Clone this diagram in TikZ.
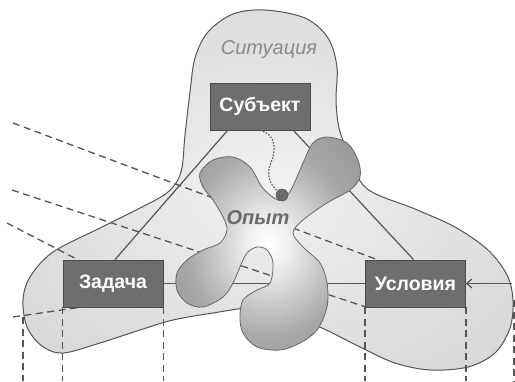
\documentclass[tikz,border=0pt]{standalone}
\usepackage{fontspec}
\setmainfont{Liberation Sans}
\usetikzlibrary{arrows.meta,calc}
\definecolor{lineC}{HTML}{555555}
\definecolor{boxC}{HTML}{6E6E6E}
\definecolor{boxB}{HTML}{4A4A4A}
\definecolor{sitTxt}{HTML}{8A8A8A}
\definecolor{expTxt}{HTML}{6A6A6A}
\definecolor{blobOut}{HTML}{868686}
\definecolor{blobMid}{HTML}{A8A8A8}
\definecolor{blobLine}{HTML}{666666}
\definecolor{sitOut}{HTML}{CCCCCC}
\definecolor{sitIn}{HTML}{F2F2F2}
\definecolor{dotC}{HTML}{6A6A6A}
\pgfdeclareradialshading{blobshade}{\pgfpoint{0bp}{0bp}}{color(0bp)=(white); color(5bp)=(white!95!black); color(22bp)=(blobMid); color(45bp)=(blobOut); color(70bp)=(blobOut)}
\pgfdeclareradialshading{sitshade}{\pgfpoint{0bp}{0bp}}{color(0bp)=(sitIn); color(20bp)=(white!88!black); color(50bp)=(sitOut); color(70bp)=(sitOut)}
\tikzset{
  sitline/.style={draw=lineC, line width=1pt},
  blobline/.style={draw=blobLine, line width=0.8pt},
  solidcon/.style={draw=lineC, line width=1.2pt},
  dashcon/.style={draw=lineC, line width=1.3pt, dash pattern=on 7pt off 4.5pt},
  dotcon/.style={draw=lineC, line width=1.2pt, dash pattern=on 1.5pt off 1.6pt},
  boxnode/.style={fill=boxC, draw=boxB, line width=0.8pt, minimum width=100pt, minimum height=47pt, inner sep=0pt, text=white, font=\fontsize{19.5}{21}\selectfont\bfseries},
}
\begin{document}
\begin{tikzpicture}[x=1pt,y=-1pt]
\useasboundingbox (0,0) rectangle (515,381);
% Situation shape
\path[shading=sitshade, sitline] plot[smooth cycle, tension=0.55] coordinates {
 (265,10) (305,18) (328,38) (337,67) (336,100) (339,128) (348,152) (366,188) (415,209) (455,227) (488,250) (507,275) (513,300) (510,328) (495,353) (468,367) (430,370) (395,363) (362,348) (322,328) (290,316) (253,308) (213,313) (173,320) (140,330) (100,343) (63,353) (42,346) (27,327) (23,300) (30,277) (53,252) (100,228) (140,208) (168,192) (181,172) (185,135) (190,92) (195,58) (208,32) (233,14)
};
% boxes
\node[boxnode] (subj) at (260,106.5) {Субъект};
\node[boxnode] (task) at (113,283.5) {Задача};
\node[boxnode] (cond) at (415.5,283.5) {Условия};
% free ends
\coordinate (d1s) at (13,123);
\coordinate (d2s) at (12,190);
\coordinate (d3s) at (7,223);
\coordinate (d4s) at (13,317);
\coordinate (rin) at (512,283.5);
\coordinate (vl) at (23,317);
\coordinate (vr) at (514,300);
% connectors
\draw[dashcon] (d1s) -- ($(cond.north west)+(12,0)$);
\draw[dashcon] (d2s) -- ($(cond.south west)+(2,0)$);
\draw[dashcon] (d3s) -- ($(task.north west)+(15,0)$);
\draw[dashcon] (d4s) -- ($(task.south west)+(17,0)$);
\draw[solidcon] ($(subj.south west)+(18,0)$) -- ($(task.north)+(2,0)$);
\draw[solidcon] ($(subj.south east)+(-17,0)$) -- ($(cond.north)+(-2,0)$);
\draw[solidcon] (task.east) -- (cond.west);
\draw[solidcon, -{Straight Barb[length=5pt,width=9pt]}] (rin) -- (cond.east);
\draw[dashcon] (task.south west) -- (task.south west |- 0,381);
\draw[dashcon] (task.south east) -- (task.south east |- 0,381);
\draw[dashcon] (cond.south west) -- (cond.south west |- 0,381);
\draw[dashcon] (cond.south east) -- (cond.south east |- 0,381);
\draw[dashcon] (vl) -- (vl |- 0,381);
\draw[dashcon] (vr) -- (vr |- 0,381);
% Experience blob
\path[shading=blobshade, blobline] plot[smooth cycle, tension=0.55] coordinates {
 (200,173) (213,160) (233,157) (250,167) (262,187) (274,198) (283,200) (292,188) (303,163) (313,143) (327,137) (347,143) (358,160) (360,177) (350,190) (327,203) (303,220) (293,233) (303,247) (320,263) (327,283) (327,307) (317,330) (300,343) (280,350) (257,347) (243,333) (240,317) (243,300) (257,290) (270,283) (273,263) (267,250) (257,247) (247,253) (240,267) (233,283) (223,297) (203,307) (187,303) (177,290) (177,273) (187,260) (203,250) (220,243) (227,230) (223,217) (213,200) (203,187)
};
% dot and dotted link
\node[circle, fill=dotC, draw=dotC!80!black, line width=0.5pt, minimum size=12pt, inner sep=0pt] (dot) at (282,195) {};
\draw[dotcon] (subj.south) .. controls (276,134) and (277,150) .. (270,165) .. controls (266,178) and (272,186) .. (dot);
% labels
\node[text=sitTxt, font=\fontsize{20}{22}\selectfont\itshape] (sit) at (269,50) {Ситуация};
\node[text=expTxt, font=\fontsize{20}{22}\selectfont\bfseries\itshape] (exp) at (258,218) {Опыт};
\end{tikzpicture}
\end{document}
